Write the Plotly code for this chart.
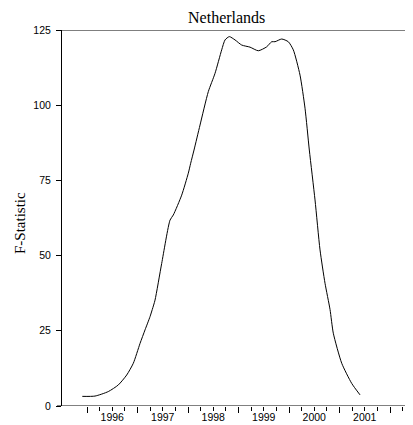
import plotly.graph_objects as go

# Data (decimal year, F-statistic)
years = [1995.907, 1996.158, 1996.422, 1996.620, 1996.786, 1996.917, 1997.050, 1997.149,
         1997.248, 1997.293, 1997.347, 1997.479, 1997.644, 1997.709, 1997.875, 1998.006,
         1998.053, 1998.119, 1998.238, 1998.402, 1998.535, 1998.667, 1998.733, 1998.818,
         1998.931, 1999.063, 1999.228, 1999.392, 1999.558, 1999.657, 1999.723, 1999.855,
         1999.986, 2000.085, 2000.218, 2000.317, 2000.402, 2000.515, 2000.614, 2000.713,
         2000.812, 2000.877, 2001.044, 2001.242, 2001.406]
f_stat = [3.2, 3.3, 4.8, 7.0, 10.3, 14.2, 20.8, 25.3,
          29.7, 32.1, 35.2, 47.4, 61.8, 63.5, 70.1, 77.4,
          80.7, 85.1, 93.4, 104.5, 110.6, 118.4, 121.7, 122.8,
          121.7, 120.0, 119.3, 118.1, 119.4, 121.1, 121.1, 122.0,
          121.1, 118.4, 110.0, 99.0, 85.1, 68.5, 51.9, 40.8,
          32.1, 24.2, 14.2, 7.5, 3.7]

year_ticks = [1996, 1997, 1998, 1999, 2000, 2001, 2002]
quarter_ticks = [1996 + 0.25 * i for i in range(1, 26) if i % 4 != 0]
label_vals = [1996.5, 1997.5, 1998.5, 1999.5, 2000.5, 2001.5]
label_text = ["1996", "1997", "1998", "1999", "2000", "2001"]
y_ticks = [0, 25, 50, 75, 100, 125]

xr = [1995.505, 2002.455]

# page body has an 8px margin, so the figure is sized/positioned to compensate
W, H = 405, 417

fig = go.Figure()
fig.add_trace(go.Scatter(x=years, y=f_stat, mode="lines",
                         line=dict(color="black", width=1, shape="spline", smoothing=0.6),
                         showlegend=False, hoverinfo="skip"))
# invisible trace to activate label axis
fig.add_trace(go.Scatter(x=[xr[0]], y=[0], xaxis="x2", mode="markers",
                         marker=dict(opacity=0), showlegend=False, hoverinfo="skip"))

tickfont = dict(family="Liberation Sans, Arial, sans-serif", size=10.5, color="black")

fig.update_layout(
    width=W, height=H,
    margin=dict(l=54, r=0, t=22, b=19, autoexpand=False),
    paper_bgcolor="white", plot_bgcolor="white",
    title=dict(text="Netherlands", x=218.7 / W, xanchor="center", xref="container",
               y=1 - 9 / H, yanchor="middle", yref="container",
               font=dict(family="Liberation Serif, Times New Roman, serif", size=16, color="black")),
    xaxis=dict(range=xr, showgrid=False, zeroline=False, showline=False,
               tickvals=year_ticks, ticks="outside", ticklen=6, tickwidth=1, tickcolor="black",
               showticklabels=False,
               minor=dict(tickvals=quarter_ticks, ticks="outside", ticklen=4, tickwidth=1,
                          tickcolor="black", showgrid=False)),
    xaxis2=dict(range=xr, overlaying="x", anchor="y", side="bottom", showgrid=False,
                zeroline=False, showline=False, tickvals=label_vals, ticktext=label_text,
                ticks="", tickfont=tickfont, ticklabelstandoff=3),
    yaxis=dict(range=[0, 125], showgrid=False, zeroline=False, showline=True,
               linecolor="black", linewidth=1, tickvals=y_ticks, ticks="outside",
               ticklen=5, tickwidth=1, tickcolor="black", tickfont=tickfont,
               ticklabelstandoff=3),
    shapes=[
        dict(type="line", xref="paper", yref="y", x0=-5 / 351, x1=1, y0=0, y1=0,
             line=dict(color="black", width=1)),
        dict(type="line", xref="paper", yref="y", x0=-5 / 351, x1=1, y0=125, y1=125,
             line=dict(color="black", width=1)),
    ],
    annotations=[
        dict(text="F-Statistic", xref="paper", yref="paper", x=(20 - 62) / 351,
             y=(406 - 223) / 376, xanchor="center", yanchor="middle", textangle=-90,
             showarrow=False,
             font=dict(family="Liberation Serif, Times New Roman, serif", size=15, color="black")),
    ],
)

fig.write_html("out.html")
